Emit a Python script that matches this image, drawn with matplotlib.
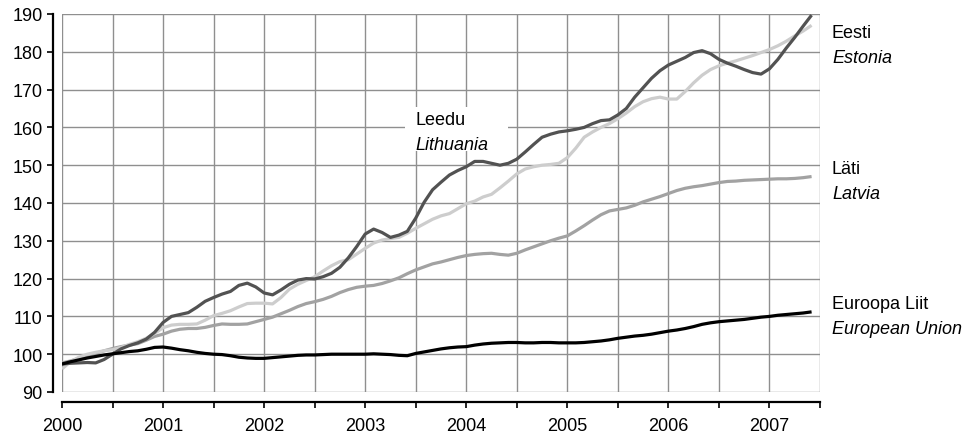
import numpy as np
import matplotlib
matplotlib.use("Agg")
import matplotlib.pyplot as plt
from matplotlib.patches import Rectangle

plt.rcParams['font.family'] = ['Liberation Sans', 'DejaVu Sans']

# Monthly index values, Jan 2000 .. Jun 2007 (2000 = 100)
start_year = 2000
lithuania = [
    97.4, 97.6, 97.7, 97.8, 97.7, 98.6, 100.0, 101.4, 102.3, 103.0, 104.0, 105.8,
    108.4, 110.0, 110.5, 111.0, 112.4, 114.0, 115.0, 115.9, 116.6, 118.2, 118.8, 117.8,
    116.2, 115.7, 117.0, 118.5, 119.6, 120.0, 119.9, 120.5, 121.4, 123.0, 125.5, 128.5,
    131.8, 133.1, 132.2, 130.9, 131.5, 132.5, 136.0, 140.2, 143.5, 145.5, 147.4, 148.6,
    149.6, 151.0, 151.0, 150.5, 150.0, 150.5, 151.6, 153.5, 155.5, 157.4, 158.2, 158.8,
    159.1, 159.5, 160.0, 161.0, 161.8, 162.0, 163.3, 165.0, 168.0, 170.5, 173.0, 175.0,
    176.5, 177.5, 178.5, 179.8, 180.3, 179.5, 178.0, 177.0, 176.2, 175.3, 174.5, 174.1,
    175.5, 178.0, 181.0, 183.8, 186.8, 189.7,
]
estonia = [
    96.1, 98.0, 99.2, 100.0, 100.5, 100.9, 101.2, 101.8, 102.6, 103.3, 104.2, 105.5,
    107.0, 107.7, 107.9, 107.9, 108.0, 109.0, 110.2, 110.8, 111.5, 112.5, 113.4, 113.5,
    113.5, 113.3, 115.0, 117.2, 118.5, 119.5, 120.5, 122.0, 123.4, 124.5, 125.0, 126.5,
    128.0, 129.4, 130.2, 130.6, 130.9, 132.0, 133.3, 134.5, 135.7, 136.6, 137.2, 138.5,
    139.8, 140.5, 141.6, 142.3, 144.0, 145.8, 147.7, 149.0, 149.6, 150.0, 150.2, 150.5,
    152.0, 154.5, 157.4, 158.8, 160.0, 161.0, 162.3, 163.8, 165.5, 166.8, 167.6, 168.0,
    167.5, 167.5, 169.5, 171.8, 173.8, 175.3, 176.3, 177.0, 177.6, 178.3, 179.0, 179.8,
    180.6, 181.6, 182.8, 184.2, 185.5, 187.0,
]
latvia = [
    97.7, 98.2, 98.9, 99.5, 100.2, 100.9, 101.5, 102.0, 102.4, 102.8, 103.7, 104.7,
    105.3, 106.1, 106.6, 106.8, 106.8, 107.1, 107.6, 108.0, 107.9, 107.9, 108.0, 108.6,
    109.2, 109.8, 110.7, 111.6, 112.6, 113.4, 113.9, 114.5, 115.3, 116.3, 117.1, 117.7,
    118.0, 118.2, 118.7, 119.4, 120.2, 121.3, 122.3, 123.1, 123.9, 124.4, 125.0, 125.6,
    126.1, 126.4, 126.6, 126.7, 126.4, 126.2, 126.7, 127.6, 128.4, 129.2, 130.0, 130.7,
    131.3, 132.6, 134.0, 135.5, 136.9, 137.9, 138.3, 138.7, 139.4, 140.3, 141.0, 141.7,
    142.5, 143.3, 143.9, 144.3, 144.6, 145.0, 145.4, 145.7, 145.8, 146.0, 146.1, 146.2,
    146.3, 146.4, 146.4, 146.5, 146.7, 147.0,
]
eu = [
    97.4, 98.0, 98.5, 99.0, 99.4, 99.8, 100.1, 100.4, 100.7, 100.9, 101.3, 101.8,
    101.9, 101.6, 101.2, 100.9, 100.5, 100.2, 100.0, 99.9, 99.6, 99.2, 99.0, 98.9,
    98.9, 99.1, 99.3, 99.5, 99.7, 99.8, 99.8, 99.9, 100.0, 100.0, 100.0, 100.0,
    100.0, 100.1, 100.0, 99.9, 99.7, 99.6, 100.2, 100.6, 101.0, 101.4, 101.7, 101.9,
    102.0, 102.4, 102.7, 102.9, 103.0, 103.1, 103.1, 103.0, 103.0, 103.1, 103.1, 103.0,
    103.0, 103.0, 103.1, 103.3, 103.5, 103.8, 104.2, 104.5, 104.8, 105.0, 105.3, 105.7,
    106.1, 106.4, 106.8, 107.3, 107.9, 108.3, 108.6, 108.8, 109.0, 109.2, 109.5, 109.8,
    110.0, 110.3, 110.5, 110.7, 110.9, 111.2,
]
year_labels = ['2000', '2001', '2002', '2003', '2004', '2005', '2006', '2007']

t = start_year + np.arange(len(eu)) / 12.0

fig = plt.figure(figsize=(9.69, 4.39), dpi=100)
ax = fig.add_axes([62 / 969, 46 / 439, 758 / 969, 378 / 439])

ax.plot(t, latvia, color='#a2a2a2', lw=2.3, solid_capstyle='butt', zorder=3)
ax.plot(t, estonia, color='#cdcdcd', lw=2.3, solid_capstyle='butt', zorder=3)
ax.plot(t, lithuania, color='#525252', lw=2.3, solid_capstyle='butt', zorder=4)
ax.plot(t, eu, color='black', lw=2.3, solid_capstyle='butt', zorder=5)

ax.set_xlim(t[0], t[-1])
ax.set_ylim(90, 190)

# half-year ticks, labels only on the years
xt = np.arange(2000, 2007.6, 0.5)
ax.set_xticks(xt)
ax.set_xticklabels([year_labels[int(v) - 2000] if v == int(v) else '' for v in xt])
ax.set_yticks(np.arange(90, 191, 10))

ax.grid(True, color='#8f8f8f', lw=1.0, zorder=1)
ax.set_axisbelow(True)

for s in ['top', 'right']:
    ax.spines[s].set_visible(False)
ax.spines['left'].set_position(('outward', 6.5))
ax.spines['bottom'].set_position(('outward', 7.2))
ax.spines['left'].set_linewidth(1.6)
ax.spines['bottom'].set_linewidth(1.6)
ax.tick_params(axis='both', direction='out', length=4, width=1.2,
               labelsize=13, colors='black')
ax.tick_params(axis='y', pad=3.5)
ax.tick_params(axis='x', pad=7)

# white patch behind the Lithuania label
ax.add_patch(Rectangle((2003.39, 153.8), 1.02, 11.6, facecolor='white',
                       edgecolor='none', zorder=2))
ax.text(2003.5, 162.2, 'Leedu', fontsize=13, va='center', ha='left', zorder=6)
ax.text(2003.5, 155.6, 'Lithuania', fontsize=13, style='italic', va='center',
        ha='left', zorder=6)

# series names at the right end
tr = ax.get_yaxis_transform()
labels = [('Eesti', 'Estonia', 185.0), ('Läti', 'Latvia', 149.0),
          ('Euroopa Liit', 'European Union', 113.3)]
for et, en, y in labels:
    ax.text(1.0158, y, et, transform=tr, fontsize=13, va='center', ha='left',
            clip_on=False)
    ax.text(1.0158, y - 6.4, en, transform=tr, fontsize=13, style='italic',
            va='center', ha='left', clip_on=False)

fig.savefig('out.png', dpi=100)
